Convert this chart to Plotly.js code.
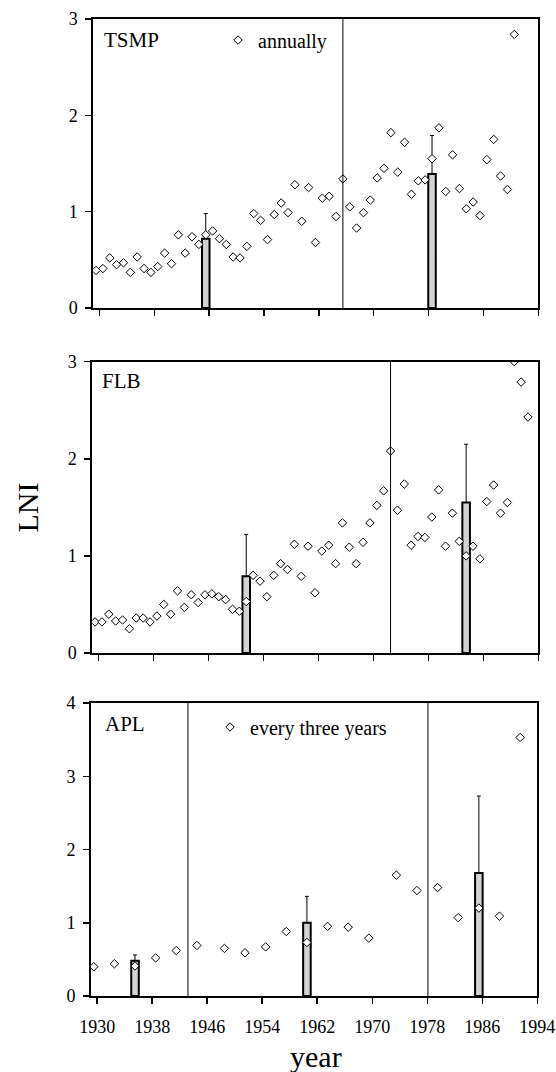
<!DOCTYPE html>
<html>
<head>
<meta charset="utf-8">
<script src="https://cdn.plot.ly/plotly-3.0.1.min.js"></script>
<style>html,body{margin:0;padding:0;background:#fff;}#chart{width:556px;height:1072px;}</style>
</head>
<body>
<div id="chart"></div>
<script>
// ---- data ----
const tsmpYears = [1930,1931,1932,1933,1934,1935,1936,1937,1938,1939,
  1940,1941,1942,1943,1944,1945,1946,1947,1948,1949,
  1950,1951,1952,1953,1954,1955,1956,1957,1958,1959,
  1960,1961,1962,1963,1964,1965,1966,1967,1968,1969,
  1970,1971,1972,1973,1974,1975,1976,1977,1978,1979,
  1980,1981,1982,1983,1984,1985,1986,1987,1988,1989,
  1990,1991];
const tsmpLNI = [0.39,0.41,0.52,0.45,0.47,0.37,0.53,0.41,0.37,0.43,
  0.57,0.46,0.76,0.57,0.74,0.66,0.76,0.80,0.72,0.66,
  0.53,0.52,0.64,0.98,0.91,0.71,0.97,1.09,0.99,1.28,
  0.90,1.25,0.68,1.14,1.16,0.95,1.34,1.05,0.83,0.99,
  1.12,1.35,1.45,1.82,1.41,1.72,1.18,1.32,1.33,1.55,
  1.87,1.21,1.59,1.24,1.03,1.10,0.96,1.54,1.75,1.37,
  1.23,2.84];
const tsmpBarYears = [1946, 1979];
const tsmpBarMean = [0.72, 1.39];
const tsmpBarErr = [0.26, 0.40];
const tsmpBreaks = [1966];

const flbYears = [1930,1931,1932,1933,1934,1935,1936,1937,1938,1939,
  1940,1941,1942,1943,1944,1945,1946,1947,1948,1949,
  1950,1951,1952,1953,1954,1955,1956,1957,1958,1959,
  1960,1961,1962,1963,1964,1965,1966,1967,1968,1969,
  1970,1971,1972,1973,1974,1975,1976,1977,1978,1979,
  1980,1981,1982,1983,1984,1985,1986,1987,1988,1989,
  1990,1991,1992,1993];
const flbLNI = [0.32,0.32,0.40,0.33,0.34,0.25,0.36,0.36,0.32,0.38,
  0.50,0.40,0.64,0.47,0.60,0.52,0.60,0.61,0.58,0.55,
  0.45,0.43,0.53,0.80,0.74,0.58,0.80,0.92,0.86,1.12,
  0.79,1.10,0.62,1.05,1.11,0.92,1.34,1.09,0.92,1.14,
  1.34,1.52,1.67,2.08,1.47,1.74,1.11,1.20,1.19,1.40,
  1.68,1.10,1.44,1.15,1.00,1.10,0.97,1.56,1.73,1.44,
  1.55,3.00,2.79,2.43];
const flbBarYears = [1952, 1984];
const flbBarMean = [0.79, 1.55];
const flbBarErr = [0.43, 0.60];
const flbBreaks = [1973];

const aplYears = [1930,1933,1936,1939,1942,1945,1949,1952,1955,1958,1961,
  1964,1967,1970,1974,1977,1980,1983,1986,1989,1992];
const aplLNI = [0.40,0.44,0.41,0.52,0.62,0.69,0.65,0.59,0.67,0.88,0.73,
  0.95,0.94,0.79,1.65,1.44,1.48,1.07,1.20,1.09,3.53];
const aplBarYears = [1936, 1961, 1986];
const aplBarMean = [0.48, 1.00, 1.68];
const aplBarErr = [0.08, 0.36, 1.05];
const aplBreaks = [1943.7, 1978.6];

const panelNames = ["TSMP", "FLB", "APL"];
const legendNames = ["annually", "every three years"];
const xTickLabels = ["1930","1938","1946","1954","1962","1970","1978","1986","1994"];
const xTickVals = xTickLabels.map(Number);

// ---- drawing ----
const W = 556, H = 1072;
const SHIFT = -0.5; // points are plotted mid-way before the year tick
const FONT = '"Liberation Serif", "Times New Roman", Times, serif';
const sh = a => a.map(v => v + SHIFT);

function barTrace(xs, ys, err, ax) {
  return {
    type: "bar", x: sh(xs), y: ys, width: 1.1,
    xaxis: "x" + ax, yaxis: "y" + ax, showlegend: false, hoverinfo: "skip",
    marker: {color: "#d3d3d3", line: {color: "#000", width: 2}},
    error_y: {type: "data", array: err, arrayminus: err.map(() => 0), symmetric: false,
      color: "#000", thickness: 1, width: 2}
  };
}
function ptTrace(xs, ys, ax, name, legend) {
  return {
    type: "scatter", mode: "markers", x: sh(xs), y: ys,
    xaxis: "x" + ax, yaxis: "y" + ax, name: name || "", showlegend: !!name,
    legend: legend || "legend",
    marker: {symbol: "diamond", size: 6.5, color: "#fff", line: {color: "#000", width: 1}}
  };
}

const data = [
  barTrace(tsmpBarYears, tsmpBarMean, tsmpBarErr, ""),
  barTrace(flbBarYears, flbBarMean, flbBarErr, "2"),
  barTrace(aplBarYears, aplBarMean, aplBarErr, "3"),
  ptTrace(tsmpYears, tsmpLNI, "", legendNames[0], "legend"),
  ptTrace(flbYears, flbLNI, "2"),
  ptTrace(aplYears, aplLNI, "3", legendNames[1], "legend2")
];

const px = v => v / W, py = v => 1 - v / H;

function xAxis(l, r, anchor, labels) {
  return {
    domain: [px(l), px(r)], range: [1929.1, 1994.0], anchor: anchor,
    showline: true, mirror: true, linecolor: "#000", linewidth: 2,
    showgrid: false, zeroline: false,
    ticks: "outside", ticklen: 6, tickwidth: 1.5, tickcolor: "#000",
    tickmode: "array", tickvals: xTickVals, ticktext: xTickLabels,
    showticklabels: labels, ticklabelstandoff: 7,
    tickfont: {family: FONT, size: 18, color: "#000"}
  };
}
function yAxis(top, bottom, max, anchor) {
  return {
    domain: [py(bottom), py(top)], range: [0, max], anchor: anchor,
    showline: true, mirror: true, linecolor: "#000", linewidth: 2,
    showgrid: false, zeroline: false,
    ticks: "outside", ticklen: 6, tickwidth: 1.5, tickcolor: "#000",
    tickmode: "linear", tick0: 0, dtick: 1, ticklabelstandoff: 4,
    tickfont: {family: FONT, size: 18, color: "#000"}
  };
}

const shapes = [];
function addBreaks(arr, ax) {
  arr.forEach(b => shapes.push({type: "line", xref: "x" + ax, yref: "y" + ax + " domain",
    x0: b + SHIFT, x1: b + SHIFT, y0: 0, y1: 1, line: {color: "#000", width: 1}}));
}
addBreaks(tsmpBreaks, "");
addBreaks(flbBreaks, "2");
addBreaks(aplBreaks, "3");

const annFont = {family: FONT, size: 21, color: "#000"};
const annotations = [
  {text: panelNames[0], xref: "paper", yref: "paper", x: px(102), y: py(40), xanchor: "left", yanchor: "middle", showarrow: false, font: annFont},
  {text: panelNames[1], xref: "paper", yref: "paper", x: px(100), y: py(381), xanchor: "left", yanchor: "middle", showarrow: false, font: annFont},
  {text: panelNames[2], xref: "paper", yref: "paper", x: px(103), y: py(724), xanchor: "left", yanchor: "middle", showarrow: false, font: annFont},
  {text: "LNI", xref: "paper", yref: "paper", x: px(26.5), y: py(508), textangle: -90, xanchor: "center", yanchor: "middle", showarrow: false, font: {family: FONT, size: 30, color: "#000"}},
  {text: "year", xref: "paper", yref: "paper", x: px(316), y: py(1056), xanchor: "center", yanchor: "middle", showarrow: false, font: {family: FONT, size: 30, color: "#000"}}
];

const legFont = {family: FONT, size: 20, color: "#000"};
const layout = {
  width: W, height: H,
  margin: {l: 0, r: 0, t: 0, b: 0},
  paper_bgcolor: "#fff", plot_bgcolor: "rgba(0,0,0,0)",
  font: {family: FONT, color: "#000"},
  barmode: "overlay",
  xaxis: xAxis(93.3, 538.3, "y", false),
  yaxis: yAxis(19, 308, 3, "x"),
  xaxis2: xAxis(92.3, 538.3, "y2", false),
  yaxis2: yAxis(361.7, 653, 3, "x2"),
  xaxis3: xAxis(91, 537.3, "y3", true),
  yaxis3: yAxis(703, 996, 4, "x3"),
  shapes: shapes,
  annotations: annotations,
  legend: {x: px(218), y: py(40), xanchor: "left", yanchor: "middle", font: legFont,
    bgcolor: "rgba(0,0,0,0)", borderwidth: 0, itemwidth: 30},
  legend2: {x: px(210), y: py(727), xanchor: "left", yanchor: "middle", font: legFont,
    bgcolor: "rgba(0,0,0,0)", borderwidth: 0, itemwidth: 30},
  showlegend: true
};

Plotly.newPlot("chart", data, layout, {displayModeBar: false, staticPlot: true});
</script>
</body>
</html>
